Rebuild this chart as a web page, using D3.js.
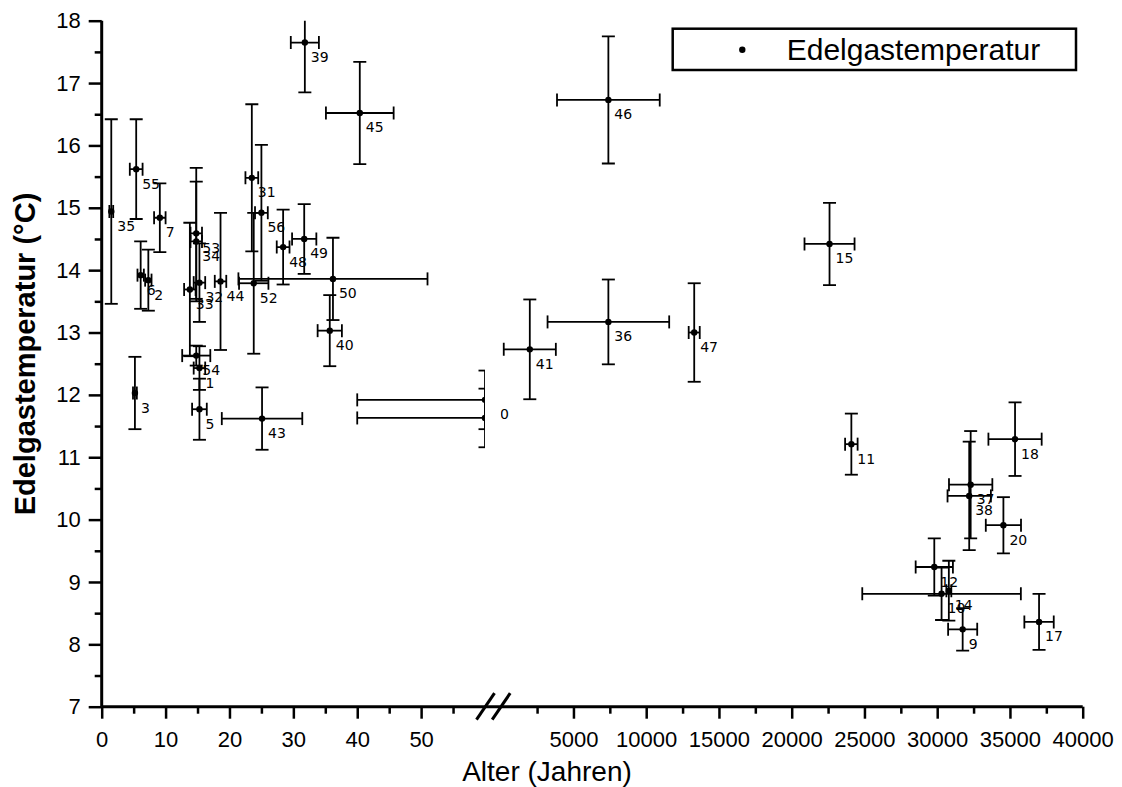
<!DOCTYPE html>
<html>
<head>
<meta charset="utf-8">
<script src="https://cdn.jsdelivr.net/npm/d3@7/dist/d3.min.js"></script>
<style>
  body { margin: 0; background: #fff; }
  .axis text { font-family: "Liberation Sans", Arial, sans-serif; font-size: 22px; fill: #000; }
  .axis line, .axis path { stroke: #000; }
</style>
</head>
<body>
<div id="chart"></div>
<script>
// sample number, age (years), age error, noble gas temperature, temp error
const labels     = ['35', '55', '7', '39', '45', '31', '56', '48', '49', '50', '40', '43', '3', '52', '44', '6', '2', '53', '34', '33', '32', '54', '1', '5', '30', '4',
                    '46', '41', '36', '47', '15', '11', '18', '37', '38', '20', '12', '10', '14', '9', '17'];
const ages       = [1.5, 5.4, 9.1, 31.8, 40.4, 23.5, 25.0, 28.4, 31.7, 36.2, 35.7, 25.1, 5.2, 23.8, 18.6, 6.1, 7.3, 14.8, 14.8, 13.8, 15.3, 14.8, 15.3, 15.3, 60, 60,
                    7400, 2000, 7400, 13300, 22600, 24100, 35350, 32300, 32200, 34550, 29800, 30300, 30800, 31750, 37000];
const ageErrors  = [0.3, 1.0, 0.9, 2.2, 5.3, 1.0, 1.0, 1.0, 1.9, 14.8, 1.9, 6.3, 0.3, 2.3, 0.9, 0.5, 0.5, 0.9, 0.9, 0.9, 0.9, 2.2, 0.9, 1.15, 20, 20,
                    3530, 1790, 4180, 380, 1720, 430, 1830, 1490, 1490, 1210, 1280, 5450, 170, 1000, 1010];
const temps      = [14.94, 15.62, 14.84, 17.65, 16.52, 15.48, 14.92, 14.37, 14.50, 13.86, 13.03, 11.62, 12.03, 13.79, 13.82, 13.92, 13.84, 14.59, 14.46, 13.69, 13.80, 12.63, 12.43, 11.77, 11.92, 11.63,
                    16.73, 12.73, 13.17, 13.00, 14.42, 11.21, 11.29, 10.56, 10.38, 9.91, 9.24, 8.81, 8.86, 8.24, 8.36];
const tempErrors = [1.48, 0.80, 0.55, 0.80, 0.82, 1.18, 1.09, 0.60, 0.56, 0.66, 0.57, 0.50, 0.58, 1.13, 1.10, 0.54, 0.49, 1.05, 0.96, 1.07, 0.63, 0.16, 0.35, 0.49, 0.47, 0.47,
                    1.02, 0.80, 0.68, 0.79, 0.66, 0.49, 0.59, 0.86, 0.87, 0.45, 0.46, 0.42, 0.48, 0.34, 0.45];

const yTicks = [7, 8, 9, 10, 11, 12, 13, 14, 15, 16, 17, 18];
const yMinor = [7.5, 8.5, 9.5, 10.5, 11.5, 12.5, 13.5, 14.5, 15.5, 16.5, 17.5];
const leftTicks = [0, 10, 20, 30, 40, 50];
const leftMinor = [5, 15, 25, 35, 45, 55];
const rightTicks = [5000, 10000, 15000, 20000, 25000, 30000, 35000, 40000];
const rightMinor = [2500, 7500, 12500, 17500, 22500, 27500, 32500, 37500];
const leftMax = 60;

const width = 1122, height = 787;
const plotTop = 20.7, plotBottom = 706.7, plotLeft = 101.7, plotRight = 1082.7;

const svg = d3.select('#chart').append('svg')
  .attr('width', width)
  .attr('height', height);

const xL = d3.scaleLinear().domain([0, leftMax]).range([plotLeft, 485]);
const xR = d3.scaleLinear().domain([0, 40000]).range([500.7, plotRight]);
const y = d3.scaleLinear().domain([7, 18]).range([plotBottom, plotTop]);

const defs = svg.append('defs');
defs.append('clipPath').attr('id', 'clipL').append('rect')
  .attr('x', 0).attr('y', plotTop).attr('width', xL.range()[1]).attr('height', plotBottom - plotTop);
defs.append('clipPath').attr('id', 'clipR').append('rect')
  .attr('x', xR.range()[0]).attr('y', plotTop).attr('width', width - xR.range()[0]).attr('height', plotBottom - plotTop);
defs.append('clipPath').attr('id', 'clipLab').append('rect')
  .attr('x', xR.range()[0]).attr('y', 0).attr('width', width).attr('height', height);

const data = labels.map(function(l, i) {
  return { label: l, age: ages[i], ageErr: ageErrors[i], t: temps[i], tErr: tempErrors[i] };
});

const cap = 6.5;

function drawPoints(g, pts, x) {
  const p = g.selectAll('.pt').data(pts).enter().append('g').attr('class', 'pt')
    .attr('stroke', '#000').attr('stroke-width', 1.8).attr('fill', 'none');
  // vertical error bar
  p.append('line')
    .attr('x1', d => x(d.age)).attr('x2', d => x(d.age))
    .attr('y1', d => y(d.t - d.tErr)).attr('y2', d => y(d.t + d.tErr));
  p.append('line')
    .attr('x1', d => x(d.age) - cap).attr('x2', d => x(d.age) + cap)
    .attr('y1', d => y(d.t + d.tErr)).attr('y2', d => y(d.t + d.tErr));
  p.append('line')
    .attr('x1', d => x(d.age) - cap).attr('x2', d => x(d.age) + cap)
    .attr('y1', d => y(d.t - d.tErr)).attr('y2', d => y(d.t - d.tErr));
  // horizontal error bar
  p.append('line')
    .attr('x1', d => x(d.age - d.ageErr)).attr('x2', d => x(d.age + d.ageErr))
    .attr('y1', d => y(d.t)).attr('y2', d => y(d.t));
  p.append('line')
    .attr('x1', d => x(d.age - d.ageErr)).attr('x2', d => x(d.age - d.ageErr))
    .attr('y1', d => y(d.t) - cap).attr('y2', d => y(d.t) + cap);
  p.append('line')
    .attr('x1', d => x(d.age + d.ageErr)).attr('x2', d => x(d.age + d.ageErr))
    .attr('y1', d => y(d.t) - cap).attr('y2', d => y(d.t) + cap);
  p.append('circle')
    .attr('cx', d => x(d.age)).attr('cy', d => y(d.t))
    .attr('r', 3.2).attr('fill', '#000').attr('stroke', 'none');
}

function drawLabels(g, pts, x) {
  g.selectAll('text').data(pts).enter().append('text')
    .attr('x', d => x(d.age) + 6)
    .attr('y', d => y(d.t) + 19.5)
    .attr('font-family', '"DejaVu Sans", sans-serif')
    .attr('font-size', 14)
    .attr('fill', '#000')
    .text(d => d.label);
}

const leftPts = data.filter(d => d.age <= leftMax);
const rightPts = data.filter(d => d.age > leftMax);

drawPoints(svg.append('g').attr('clip-path', 'url(#clipL)'), leftPts, xL);
drawPoints(svg.append('g').attr('clip-path', 'url(#clipR)'), rightPts, xR);
drawLabels(svg.append('g'), leftPts.filter(d => d.age < leftMax), xL);
drawLabels(svg.append('g').attr('clip-path', 'url(#clipLab)'), leftPts.filter(d => d.age >= leftMax), xL);
drawLabels(svg.append('g'), rightPts, xR);

// y axis
const gy = svg.append('g').attr('class', 'axis').attr('transform', 'translate(' + plotLeft + ',0)');
gy.call(d3.axisLeft(y).tickValues(yTicks).tickSize(13).tickPadding(8).tickSizeOuter(0));
gy.append('g').call(d3.axisLeft(y).tickValues(yMinor).tickSize(7).tickFormat('').tickSizeOuter(0));
gy.selectAll('path').remove();
gy.selectAll('line').attr('stroke-width', 2.5);

// x axis, two segments
const fmt = d3.format('d');
const gx = svg.append('g').attr('class', 'axis').attr('transform', 'translate(0,' + plotBottom + ')');
gx.append('g').call(d3.axisBottom(xL).tickValues(leftTicks).tickFormat(fmt).tickSize(12).tickPadding(13).tickSizeOuter(0));
gx.append('g').call(d3.axisBottom(xL).tickValues(leftMinor).tickSize(7).tickFormat('').tickSizeOuter(0));
gx.append('g').call(d3.axisBottom(xR).tickValues(rightTicks).tickFormat(fmt).tickSize(12).tickPadding(13).tickSizeOuter(0));
gx.append('g').call(d3.axisBottom(xR).tickValues(rightMinor).tickSize(7).tickFormat('').tickSizeOuter(0));
gx.selectAll('path').remove();
gx.selectAll('line').attr('stroke-width', 2.5);

// axis lines
svg.append('line')
  .attr('x1', plotLeft).attr('x2', plotLeft).attr('y1', plotTop).attr('y2', plotBottom)
  .attr('stroke', '#000').attr('stroke-width', 3);
svg.append('line')
  .attr('x1', plotLeft).attr('x2', plotRight).attr('y1', plotBottom).attr('y2', plotBottom)
  .attr('stroke', '#000').attr('stroke-width', 3);

// axis break marks
const bx = [xL.range()[1], xR.range()[0]];
svg.selectAll('.brk').data(bx).enter().append('line')
  .attr('x1', d => d - 8.5).attr('x2', d => d + 9.5)
  .attr('y1', plotBottom + 13).attr('y2', plotBottom - 13.5)
  .attr('stroke', '#000').attr('stroke-width', 3);

// axis titles
svg.append('text')
  .attr('transform', 'translate(35,354) rotate(-90)')
  .attr('text-anchor', 'middle')
  .attr('font-family', '"Liberation Sans", Arial, sans-serif')
  .attr('font-size', 29)
  .attr('font-weight', 'bold')
  .text('Edelgastemperatur (°C)');

svg.append('text')
  .attr('x', 547).attr('y', 781)
  .attr('text-anchor', 'middle')
  .attr('font-family', '"Liberation Sans", Arial, sans-serif')
  .attr('font-size', 28)
  .text('Alter (Jahren)');

// legend
const lg = svg.append('g');
lg.append('rect')
  .attr('x', 672.7).attr('y', 28.7).attr('width', 403.3).attr('height', 41.3)
  .attr('fill', '#fff').attr('stroke', '#000').attr('stroke-width', 2.5);
lg.append('circle').attr('cx', 742.3).attr('cy', 49.7).attr('r', 3.2).attr('fill', '#000');
lg.append('text')
  .attr('x', 786.7).attr('y', 60)
  .attr('font-family', '"Liberation Sans", Arial, sans-serif')
  .attr('font-size', 30)
  .text('Edelgastemperatur');
</script>
</body>
</html>
